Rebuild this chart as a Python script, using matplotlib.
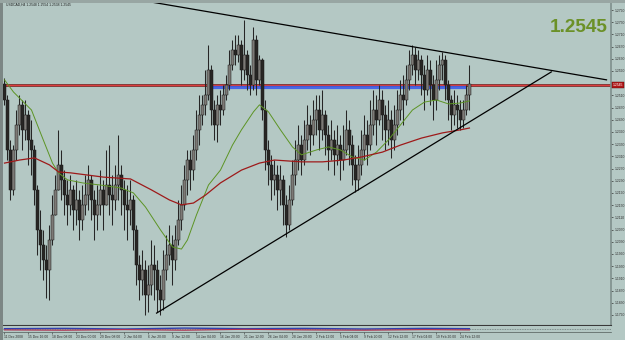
import numpy as np
import matplotlib
matplotlib.use('Agg')
import matplotlib.pyplot as plt
from matplotlib.patches import Rectangle

plt.rcParams['font.family'] = ['Liberation Sans', 'DejaVu Sans']

# H4 candles (one bar here ~ two H4 bars)
first_open = 1.2547
closes = [1.2495, 1.2331, 1.2200, 1.2331, 1.2413, 1.2479, 1.2397, 1.2446, 1.2364, 1.2331,
          1.2200, 1.2069, 1.2019, 1.1970, 1.1937, 1.2036, 1.2118, 1.2200, 1.2282, 1.2233,
          1.2183, 1.2151, 1.2200, 1.2134, 1.2167, 1.2101, 1.2151, 1.2183, 1.2233, 1.2167,
          1.2118, 1.2151, 1.2200, 1.2151, 1.2216, 1.2183, 1.2167, 1.2216, 1.2249, 1.2200,
          1.2151, 1.2134, 1.2167, 1.2069, 1.1954, 1.1905, 1.1937, 1.1855, 1.1888, 1.1954,
          1.1937, 1.1872, 1.1839, 1.1937, 1.1987, 1.2019, 1.1970, 1.2036, 1.2101, 1.2151,
          1.2233, 1.2298, 1.2265, 1.2331, 1.2397, 1.2446, 1.2479, 1.2511, 1.2593, 1.2462,
          1.2413, 1.2479, 1.2462, 1.2511, 1.2544, 1.2610, 1.2659, 1.2643, 1.2675, 1.2593,
          1.2643, 1.2577, 1.2544, 1.2692, 1.2561, 1.2626, 1.2462, 1.2331, 1.2282, 1.2233,
          1.2249, 1.2200, 1.2233, 1.2151, 1.2085, 1.2167, 1.2249, 1.2298, 1.2347, 1.2298,
          1.2364, 1.2413, 1.2380, 1.2429, 1.2462, 1.2397, 1.2446, 1.2380, 1.2331, 1.2364,
          1.2315, 1.2347, 1.2298, 1.2331, 1.2397, 1.2347, 1.2282, 1.2233, 1.2282, 1.2331,
          1.2380, 1.2347, 1.2413, 1.2462, 1.2429, 1.2495, 1.2446, 1.2397, 1.2429, 1.2364,
          1.2413, 1.2462, 1.2511, 1.2495, 1.2561, 1.2610, 1.2643, 1.2593, 1.2626, 1.2577,
          1.2528, 1.2593, 1.2544, 1.2495, 1.2561, 1.2610, 1.2626, 1.2544, 1.2495, 1.2446,
          1.2479, 1.2462, 1.2429, 1.2462, 1.2511, 1.2547]
highs = [1.2567, 1.2511, 1.2364, 1.2347, 1.2462, 1.2511, 1.2495, 1.2495, 1.2462, 1.2429,
         1.2347, 1.2216, 1.2134, 1.2069, 1.2019, 1.2085, 1.2183, 1.2249, 1.2397, 1.2331,
         1.2265, 1.2233, 1.2249, 1.2216, 1.2233, 1.2200, 1.2216, 1.2249, 1.2282, 1.2249,
         1.2200, 1.2216, 1.2265, 1.2233, 1.2331, 1.2347, 1.2249, 1.2282, 1.2380, 1.2282,
         1.2233, 1.2216, 1.2233, 1.2183, 1.2085, 1.1987, 1.2003, 1.1970, 1.1954, 1.2036,
         1.2019, 1.1970, 1.1921, 1.2003, 1.2052, 1.2085, 1.2052, 1.2085, 1.2167, 1.2216,
         1.2282, 1.2331, 1.2331, 1.2380, 1.2462, 1.2511, 1.2511, 1.2593, 1.2675, 1.2610,
         1.2495, 1.2511, 1.2528, 1.2544, 1.2577, 1.2659, 1.2692, 1.2708, 1.2708, 1.2692,
         1.2757, 1.2659, 1.2610, 1.2734, 1.2708, 1.2643, 1.2633, 1.2495, 1.2364, 1.2315,
         1.2298, 1.2282, 1.2282, 1.2249, 1.2183, 1.2216, 1.2298, 1.2364, 1.2413, 1.2380,
         1.2429, 1.2479, 1.2446, 1.2495, 1.2511, 1.2511, 1.2528, 1.2462, 1.2413, 1.2429,
         1.2397, 1.2413, 1.2380, 1.2413, 1.2462, 1.2429, 1.2380, 1.2315, 1.2347, 1.2397,
         1.2446, 1.2429, 1.2495, 1.2528, 1.2511, 1.2544, 1.2528, 1.2479, 1.2495, 1.2462,
         1.2479, 1.2528, 1.2561, 1.2577, 1.2610, 1.2659, 1.2675, 1.2669, 1.2659, 1.2643,
         1.2610, 1.2643, 1.2626, 1.2577, 1.2626, 1.2643, 1.2652, 1.2643, 1.2561, 1.2511,
         1.2528, 1.2511, 1.2495, 1.2495, 1.2544, 1.2610]
lows = [1.2479, 1.2298, 1.2167, 1.2183, 1.2298, 1.2380, 1.2331, 1.2364, 1.2282, 1.2249,
        1.2151, 1.1987, 1.1937, 1.1905, 1.1846, 1.1839, 1.2019, 1.2118, 1.2200, 1.2167,
        1.2118, 1.2085, 1.2118, 1.2069, 1.2085, 1.2036, 1.2069, 1.2118, 1.2134, 1.2101,
        1.2036, 1.2069, 1.2118, 1.2069, 1.2151, 1.2118, 1.2085, 1.2134, 1.2167, 1.2118,
        1.2069, 1.2036, 1.2085, 1.2003, 1.1888, 1.1839, 1.1855, 1.1790, 1.1800, 1.1855,
        1.1839, 1.1800, 1.1790, 1.1806, 1.1905, 1.1954, 1.1888, 1.1937, 1.2019, 1.2069,
        1.2134, 1.2183, 1.2200, 1.2233, 1.2298, 1.2347, 1.2413, 1.2446, 1.2495, 1.2413,
        1.2364, 1.2357, 1.2413, 1.2446, 1.2495, 1.2528, 1.2593, 1.2610, 1.2620, 1.2544,
        1.2561, 1.2528, 1.2511, 1.2528, 1.2511, 1.2544, 1.2429, 1.2265, 1.2216, 1.2167,
        1.2183, 1.2134, 1.2151, 1.2085, 1.2046, 1.2069, 1.2151, 1.2216, 1.2265, 1.2249,
        1.2282, 1.2331, 1.2315, 1.2347, 1.2380, 1.2331, 1.2364, 1.2315, 1.2265, 1.2298,
        1.2249, 1.2282, 1.2233, 1.2265, 1.2315, 1.2282, 1.2216, 1.2193, 1.2200, 1.2249,
        1.2298, 1.2282, 1.2331, 1.2380, 1.2347, 1.2413, 1.2364, 1.2331, 1.2347, 1.2305,
        1.2331, 1.2380, 1.2429, 1.2413, 1.2479, 1.2528, 1.2577, 1.2544, 1.2561, 1.2511,
        1.2462, 1.2511, 1.2479, 1.2429, 1.2462, 1.2528, 1.2561, 1.2495, 1.2429, 1.2397,
        1.2413, 1.2403, 1.2397, 1.2403, 1.2446, 1.2462]

# moving averages, sampled along the curves
green_idx = [0, 3, 9, 12, 16, 18, 21, 26, 32, 39, 43, 47, 52, 56, 59, 61, 64, 68, 72, 76,
             79, 83, 85, 88, 92, 96, 99, 104, 108, 112, 116, 120, 124, 128, 132, 136, 140,
             144, 148, 152, 155]
green_ma = [1.2561, 1.2521, 1.2462, 1.2387, 1.2288, 1.2256, 1.2233, 1.2223, 1.2216, 1.2206,
            1.2190, 1.2144, 1.2069, 1.2013, 1.2006, 1.2036, 1.2118, 1.2216, 1.2265, 1.2347,
            1.2397, 1.2456, 1.2479, 1.2456, 1.2397, 1.2341, 1.2315, 1.2331, 1.2341, 1.2331,
            1.2308, 1.2298, 1.2324, 1.2364, 1.2413, 1.2462, 1.2488, 1.2495, 1.2482, 1.2485,
            1.2492]
red_idx = [0, 5, 10, 15, 18, 22, 33, 42, 49, 55, 59, 63, 67, 72, 79, 85, 90, 99, 106, 113,
           119, 126, 132, 139, 146, 152, 155]
red_ma = [1.2288, 1.2298, 1.2305, 1.2282, 1.2259, 1.2256, 1.2242, 1.2236, 1.2200, 1.2167,
          1.2151, 1.2157, 1.2183, 1.2223, 1.2265, 1.2288, 1.2298, 1.2292, 1.2292, 1.2298,
          1.2308, 1.2324, 1.2347, 1.2370, 1.2387, 1.2397, 1.2403]

# trend lines and levels
upper_trend_idx = [49, 200.7]
upper_trend = [1.2816, 1.2561]
lower_trend_idx = [50.7, 182.3]
lower_trend = [1.1796, 1.2587]
bid = 1.2545
blue_level = 1.2537
blue_span = [68, 154]

ytick_vals = [1.2790, 1.2750, 1.2710, 1.2670, 1.2630, 1.2590, 1.2510, 1.2470, 1.2430,
              1.2390, 1.2350, 1.2310, 1.2270, 1.2230, 1.2190, 1.2150, 1.2110, 1.2070,
              1.2030, 1.1990, 1.1950, 1.1910, 1.1870, 1.1830, 1.1790]
xtick_labels = ['11 Dec 2008', '15 Dec 16:00', '18 Dec 08:00', '23 Dec 00:00', '29 Dec 08:00',
                '2 Jan 04:00', '6 Jan 20:00', '9 Jan 12:00', '14 Jan 04:00', '16 Jan 20:00',
                '21 Jan 12:00', '26 Jan 04:00', '28 Jan 20:00', '2 Feb 12:00', '5 Feb 04:00',
                '9 Feb 20:00', '12 Feb 12:00', '17 Feb 04:00', '19 Feb 20:00', '24 Feb 12:00']
xtick_idx = list(range(0, 8 * len(xtick_labels), 8))

# small indicator sub-window
ind_idx = [0, 20, 40, 60, 80, 100, 120, 140, 155]
ind_blue = [0.55, 0.60, 0.50, 0.65, 0.55, 0.60, 0.50, 0.60, 0.55]
ind_red = [0.35, 0.30, 0.40, 0.30, 0.45, 0.35, 0.30, 0.40, 0.35]

bg = '#b4c8c4'
W, H = 625, 340
fig = plt.figure(figsize=(6.25, 3.4), dpi=100, facecolor=bg)

ax = fig.add_axes([3 / W, 1 - 325 / H, 608 / W, 322 / H], facecolor=bg)
ax_ind = fig.add_axes([3 / W, 1 - 332 / H, 608 / W, 6 / H], facecolor=bg, sharex=ax)

n = len(closes)
idx = np.arange(n)
c = np.array(closes)
o = np.array([first_open] + closes[:-1])
h = np.maximum(np.array(highs), np.maximum(o, c))
l = np.minimum(np.array(lows), np.minimum(o, c))
up = c >= o

ax.vlines(idx, l, h, color='#262626', lw=0.75, zorder=2)
body = np.maximum(np.abs(c - o), 0.0003)
ax.bar(idx, body, bottom=np.minimum(o, c), width=0.78,
       color=np.where(up, '#7c7a76', '#282624'), edgecolor='#1a1a1a', linewidth=0.35, zorder=3)

ax.plot(green_idx, green_ma, color='#5c9424', lw=0.7, zorder=4)
ax.plot(red_idx, red_ma, color='#9e1a1a', lw=0.9, zorder=4)

ax.axhline(bid, color='#7a1010', lw=1.8, zorder=1.5)
ax.axhline(bid, color='#e04040', lw=0.7, zorder=1.6)
ax.hlines(blue_level, blue_span[0], blue_span[1], color='#3d5de6', lw=2.3, alpha=0.9, zorder=1.7)

ax.plot(upper_trend_idx, upper_trend, color='black', lw=0.9, zorder=5)
ax.plot(lower_trend_idx, lower_trend, color='black', lw=0.9, zorder=5)

ax.set_xlim(-0.5, 202.2)
ax.set_ylim(1.1757, 1.2813)

ax.yaxis.tick_right()
ax.set_yticks(ytick_vals)
ax.set_yticklabels(['%.4f' % v for v in ytick_vals])
ax.tick_params(axis='y', length=1.5, width=0.5, colors='#303030', labelsize=2.4, pad=1)
ax.tick_params(axis='x', bottom=False, labelbottom=False)
for s in ['top', 'left']:
    ax.spines[s].set_visible(False)
ax.spines['right'].set_color('#7f8f8c')
ax.spines['right'].set_linewidth(1.2)
ax.spines['bottom'].set_color('#3a3a3a')
ax.spines['bottom'].set_linewidth(0.8)

# current price box on the axis
ax.text(1.003, bid, '%.4f' % bid, transform=ax.get_yaxis_transform(), fontsize=2.4,
        color='white', va='center', ha='left',
        bbox=dict(boxstyle='square,pad=0.25', fc='#b01818', ec='#600000', lw=0.3))

# big price label
ax.text(0.995, 0.924, '%.4f' % bid, transform=ax.transAxes,
        fontsize=13.7, fontweight='bold', color='#6b9128', ha='right', va='center')

# indicator window
ax_ind.axhline(0.5, color='#6c7a78', lw=0.6, ls=(0, (1, 1)))
ax_ind.plot(ind_idx, ind_blue, color='#3040b0', lw=1.0)
ax_ind.plot(ind_idx, ind_red, color='#b03050', lw=0.8)
ax_ind.set_ylim(0, 1)
ax_ind.set_yticks([])
for s in ['top', 'left', 'right']:
    ax_ind.spines[s].set_visible(False)
ax_ind.spines['bottom'].set_color('#505a58')
ax_ind.spines['bottom'].set_linewidth(0.5)
ax_ind.set_xticks(xtick_idx)
ax_ind.set_xticklabels(xtick_labels, ha='left')
ax_ind.tick_params(axis='x', length=1.5, width=0.4, colors='#303030', labelsize=2.4, pad=0.5)

# title line top-left
fig.text(6 / W, 1 - 5 / H, 'USDCAD,H4 1.2548 1.2554 1.2538 1.2545', fontsize=2.4,
         color='#202020', ha='left', va='center')

# window frame strips
fig.patches.append(Rectangle((0, 0), 3 / W, 1, transform=fig.transFigure, fc='#7c8785', ec='none'))
fig.patches.append(Rectangle((0, 1 - 3 / H), 1, 3 / H, transform=fig.transFigure, fc='#98a6a3', ec='none'))

fig.savefig('out.png', dpi=100, facecolor=bg)
